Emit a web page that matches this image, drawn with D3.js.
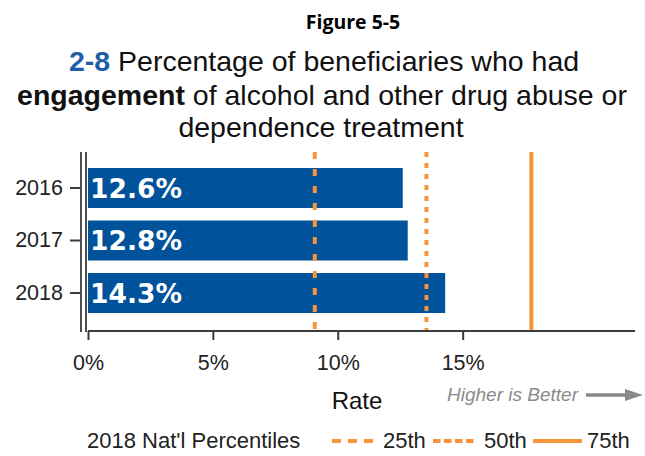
<!DOCTYPE html>
<html>
<head>
<meta charset="utf-8">
<script src="https://cdn.jsdelivr.net/npm/d3@7"></script>
<style>
  body { margin: 0; background: #fff; }
  text { font-family: "Liberation Sans", Arial, sans-serif; }
</style>
</head>
<body>
<svg width="645" height="456"></svg>
<script>
// data
const years = ["2016", "2017", "2018"];
const rates = [12.6, 12.8, 14.3];
const pctNames = ["25th", "50th", "75th"];
const pctValues = [9.08, 13.55, 17.75];
const xTicks = [0, 5, 10, 15];

const svg = d3.select("svg");
const blue = "#00529b",
    orange = "#f7943c",
    axisGray = "#3c3c3c";

const x = d3.scaleLinear().domain([0, 21.9]).range([88, 635]);
const y = d3.scaleBand().domain(years).range([161.75, 319.25])
    .paddingInner(0.238).paddingOuter(0.119);

const dashes = { "25th": "7,10", "50th": "5,6", "75th": null };

// titles
svg.append("text")
    .attr("x", 353).attr("y", 29)
    .attr("text-anchor", "middle")
    .style("font-family", "'Open Sans', sans-serif")
    .style("font-weight", "bold")
    .style("font-size", "19.5px")
    .text("Figure 5-5");

let t1 = svg.append("text").attr("x", 324).attr("y", 71)
    .attr("text-anchor", "middle").style("font-size", "28.5px").attr("fill", "#111");
t1.append("tspan").attr("fill", "#1f5ea8").style("font-weight", "bold").text("2-8");
t1.append("tspan").text(" Percentage of beneficiaries who had");

let t2 = svg.append("text").attr("x", 322).attr("y", 105)
    .attr("text-anchor", "middle").style("font-size", "28.5px").attr("fill", "#111");
t2.append("tspan").style("font-weight", "bold").text("engagement");
t2.append("tspan").text(" of alcohol and other drug abuse or");

svg.append("text").attr("x", 321).attr("y", 137)
    .attr("text-anchor", "middle").style("font-size", "28.5px").attr("fill", "#111")
    .text("dependence treatment");

// bars
svg.append("g")
  .selectAll("rect")
  .data(rates)
  .enter().append("rect")
    .attr("x", x(0))
    .attr("y", function(d, i) { return y(years[i]); })
    .attr("width", function(d) { return x(d) - x(0); })
    .attr("height", y.bandwidth())
    .attr("fill", blue);

svg.append("g")
  .selectAll("text")
  .data(rates)
  .enter().append("text")
    .attr("x", x(0) + 2)
    .attr("y", function(d, i) { return y(years[i]) + y.bandwidth() / 2 + 9.5; })
    .attr("fill", "#fff")
    .style("font-family", "'DejaVu Sans', sans-serif")
    .style("font-weight", "bold")
    .style("font-size", "26.5px")
    .text(function(d) { return d.toFixed(1) + "%"; });

// percentile lines
svg.append("g")
  .selectAll("line")
  .data(pctValues)
  .enter().append("line")
    .attr("x1", function(d) { return x(d); })
    .attr("x2", function(d) { return x(d); })
    .attr("y1", 152)
    .attr("y2", 331)
    .attr("stroke", orange)
    .attr("stroke-width", 4)
    .attr("stroke-dasharray", function(d, i) { return dashes[pctNames[i]]; });

// x axis
let xAxis = svg.append("g")
    .attr("transform", "translate(0,331)")
    .call(d3.axisBottom(x).tickValues(xTicks).tickSize(9).tickFormat(function(d) { return d + "%"; }));
xAxis.select(".domain").attr("stroke", axisGray).attr("stroke-width", 2).attr("d", "M" + x(0) + ",0H635");
xAxis.selectAll(".tick line").attr("stroke", axisGray).attr("stroke-width", 2);
xAxis.selectAll(".tick text")
    .attr("y", 24)
    .attr("fill", "#222")
    .style("font-family", "'Liberation Sans', Arial, sans-serif")
    .style("font-size", "21.5px");

// y axis (double rule)
let yAxis = svg.append("g")
    .attr("transform", "translate(80,0)")
    .call(d3.axisLeft(y).tickSize(10).tickPadding(7));
yAxis.select(".domain").remove();
yAxis.selectAll(".tick line").attr("stroke", axisGray).attr("stroke-width", 2);
yAxis.selectAll(".tick text")
    .attr("fill", "#222")
    .style("font-family", "'Liberation Sans', Arial, sans-serif")
    .style("font-size", "21.5px");
[81, 86].forEach(function(px) {
  svg.append("line")
      .attr("x1", px).attr("x2", px)
      .attr("y1", 152).attr("y2", 332)
      .attr("stroke", axisGray).attr("stroke-width", 1.8);
});

// axis title + note
svg.append("text").attr("x", 357).attr("y", 409)
    .attr("text-anchor", "middle").style("font-size", "24px").attr("fill", "#111")
    .text("Rate");

svg.append("text").attr("x", 578).attr("y", 401)
    .attr("text-anchor", "end")
    .style("font-size", "19px").style("font-style", "italic")
    .attr("fill", "#8a8a8a")
    .text("Higher is Better");
svg.append("line")
    .attr("x1", 586).attr("x2", 628).attr("y1", 395).attr("y2", 395)
    .attr("stroke", "#8a8a8a").attr("stroke-width", 3.5);
svg.append("path")
    .attr("d", "M625,389L643,395L625,401Z")
    .attr("fill", "#8a8a8a");

// legend
svg.append("text").attr("x", 87).attr("y", 448)
    .style("font-size", "22px").attr("fill", "#222")
    .text("2018 Nat'l Percentiles");

const legX = [332, 433, 533];
let leg = svg.append("g")
  .selectAll("g")
  .data(pctNames)
  .enter().append("g");
leg.append("line")
    .attr("x1", function(d, i) { return legX[i]; })
    .attr("x2", function(d, i) { return legX[i] + (d == "75th" ? 49 : 41); })
    .attr("y1", 441).attr("y2", 441)
    .attr("stroke", orange).attr("stroke-width", 4)
    .attr("stroke-dasharray", function(d) { return d == "75th" ? null : (d == "25th" ? "9,7" : "7.5,3.5"); });
leg.append("text")
    .attr("x", function(d, i) { return legX[i] + (d == "75th" ? 54 : 51); })
    .attr("y", 448)
    .style("font-size", "22px").attr("fill", "#222")
    .text(function(d) { return d; });
</script>
</body>
</html>
